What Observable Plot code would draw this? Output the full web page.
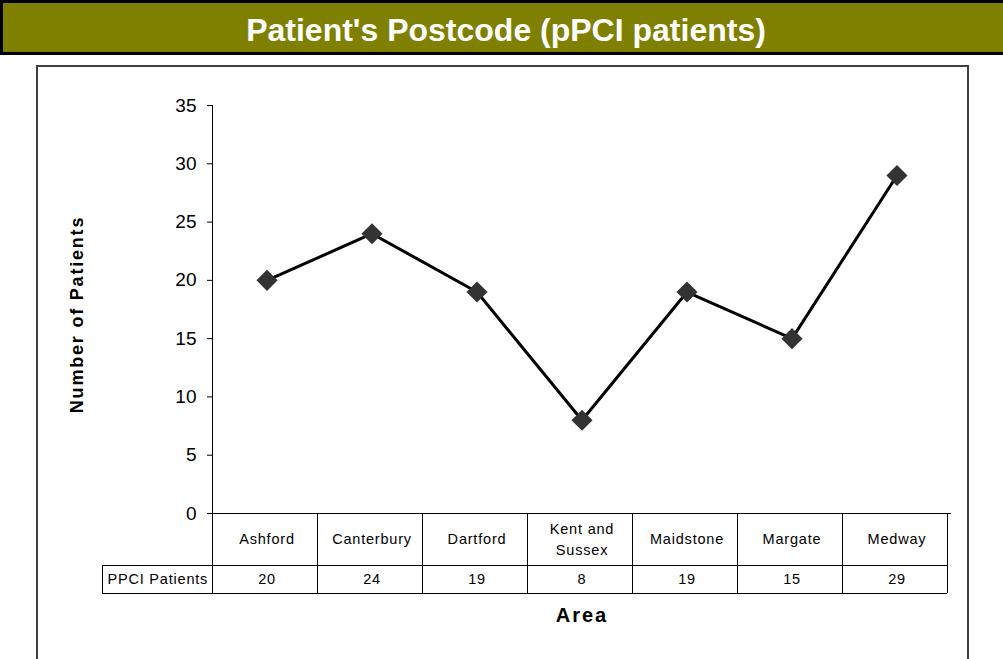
<!DOCTYPE html>
<html>
<head>
<meta charset="utf-8">
<script src="https://cdn.jsdelivr.net/npm/d3@7"></script>
<script src="https://cdn.jsdelivr.net/npm/@observablehq/plot@0.6"></script>
<style>
  html, body { margin: 0; padding: 0; background: #ffffff; }
  body { width: 1003px; height: 659px; overflow: hidden; font-family: "Liberation Sans", Arial, sans-serif; }
  #title {
    box-sizing: border-box; width: 1003px; height: 55px;
    background: #808000; border: 3px solid #000; border-right: none;
    color: #fff; font-weight: bold; font-size: 32px;
    display: flex; align-items: center; justify-content: center;
    padding-left: 6px; padding-top: 5px;
  }
  #chart svg { display: block; overflow: hidden; }
</style>
</head>
<body>
<div id="title">Patient's Postcode (pPCI patients)</div>
<div id="chart"></div>
<script>
// ---- data ----
const areas = ["Ashford", "Canterbury", "Dartford", "Kent and\nSussex", "Maidstone", "Margate", "Medway"];
const patients = [20, 24, 19, 8, 19, 15, 29];
const yTicks = [0, 5, 10, 15, 20, 25, 30, 35];
const rowLabel = "PPCI Patients";
const yLabel = "Number of Patients";
const xLabel = "Area";

const data = areas.map((a, i) => ({area: a, value: patients[i]}));

const headerH = 52, valueH = 28;

const chart = Plot.plot({
  width: 1003,
  height: 604,
  marginTop: 50,
  marginBottom: 146,
  marginLeft: 212,
  marginRight: 52,
  style: {fontFamily: "'Liberation Sans', Arial, sans-serif", fontSize: "19px", background: "transparent", color: "#000"},
  x: {domain: areas, type: "band", padding: 0, axis: null},
  y: {domain: [0, 35], ticks: yTicks, tickSize: 5, tickPadding: 11, label: null},
  marks: [
    Plot.ruleY([0], {stroke: "#000", strokeWidth: 1}),
    Plot.line(data, {x: "area", y: "value", stroke: "#000", strokeWidth: 3}),
    Plot.dot(data, {x: "area", y: "value", symbol: "diamond2", r: 9.5, fill: "#333333", stroke: "none"}),
    // category header row
    Plot.text(areas, {x: d => d, text: d => d, frameAnchor: "bottom", lineAnchor: "middle", dy: 24, fontSize: 14.5, lineHeight: 1.45, fill: "#000", className: "cat"}),
    // values row
    Plot.text(data, {x: "area", text: d => String(d.value), frameAnchor: "bottom", lineAnchor: "middle", dy: 66, fontSize: 14.5, fill: "#000", className: "cat"}),
    // row label
    Plot.text([rowLabel], {text: d => d, frameAnchor: "bottom-left", lineAnchor: "middle", dx: -105, dy: 66, textAnchor: "start", fontSize: 14.5, fill: "#000", className: "cat"}),
    // axis titles
    Plot.text([yLabel], {text: d => d, frameAnchor: "left", lineAnchor: "middle", textAnchor: "middle", rotate: -90, dx: -135, dy: 5, fontWeight: "bold", fontSize: 18, fill: "#000", className: "ylab"}),
    Plot.text([xLabel], {text: d => d, frameAnchor: "bottom", lineAnchor: "middle", textAnchor: "middle", dy: 102, fontWeight: "bold", fontSize: 20, fill: "#000", className: "xlab"})
  ]
});

document.getElementById("chart").appendChild(chart);

// table grid and axis line, placed with the plot's own scales
const svg = d3.select(chart);
const sx = chart.scale("x");
const sy = chart.scale("y");
const x0 = sx.range[0];
const step = sx.step ?? ((sx.range[1] - sx.range[0]) / sx.domain.length);
const x1 = x0 + step * sx.domain.length;
const yBase = sy.apply(0);
const yTop = sy.apply(35);
const r1 = yBase + headerH, r2 = r1 + valueH;
const rowLeft = x0 - 110;

svg.selectAll(".cat").attr("letter-spacing", "0.8px");
svg.selectAll(".ylab").attr("letter-spacing", "1.8px");
svg.selectAll(".xlab").attr("letter-spacing", "2px");

const g = svg.append("g").attr("stroke", "#000").attr("stroke-width", 1).attr("shape-rendering", "crispEdges");
// y axis line (continues as table left border of header row)
g.append("line").attr("x1", x0).attr("x2", x0).attr("y1", yTop).attr("y2", r2);
// column boundaries
for (let i = 1; i <= sx.domain.length; i++) {
  const xx = x0 + step * i;
  g.append("line").attr("x1", xx).attr("x2", xx).attr("y1", yBase).attr("y2", r2);
}
// horizontal rows
g.append("line").attr("x1", rowLeft).attr("x2", x1).attr("y1", r1).attr("y2", r1);
g.append("line").attr("x1", rowLeft).attr("x2", x1).attr("y1", r2).attr("y2", r2);
g.append("line").attr("x1", rowLeft).attr("x2", rowLeft).attr("y1", r1).attr("y2", r2);

// outer chart frame
svg.append("rect")
  .attr("x", 37).attr("y", 11).attr("width", 931).attr("height", 640)
  .attr("fill", "none").attr("stroke", "#404040").attr("stroke-width", 2);
</script>
</body>
</html>
